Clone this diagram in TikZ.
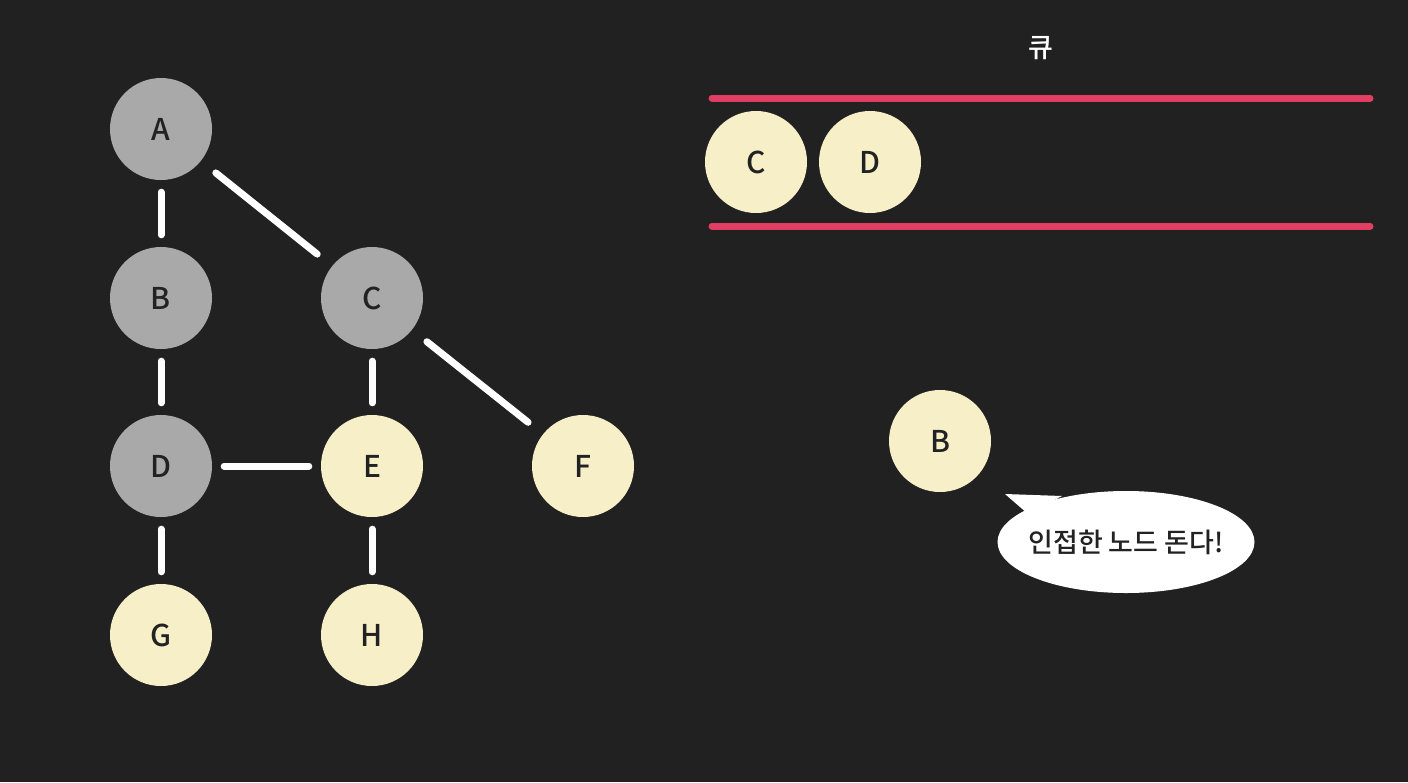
\documentclass[tikz,border=0pt]{standalone}
\usepackage{fontspec}
\setmainfont{Noto Sans CJK KR}[BoldFont={Noto Sans CJK KR Medium}]
\usetikzlibrary{shapes.geometric}
\definecolor{bg}{HTML}{212121}
\definecolor{visited}{HTML}{A9A9A9}
\definecolor{fresh}{HTML}{F7EFC8}
\definecolor{qred}{HTML}{E03E62}
\definecolor{ink}{HTML}{222222}
\tikzset{
  vnode/.style={circle, minimum size=102pt, inner sep=0pt, text=ink, font=\fontsize{30}{32}\selectfont\bfseries},
  grayv/.style={vnode, fill=visited},
  yelv/.style={vnode, fill=fresh},
  edge/.style={draw=white, line width=7pt, line cap=round, shorten >=12pt, shorten <=12pt},
  diag/.style={edge, shorten >=19pt, shorten <=19pt},
  qline/.style={draw=qred, line width=7pt, line cap=round},
}
\begin{document}
\begin{tikzpicture}[x=1pt,y=-1pt]
\fill[bg] (0,0) rectangle (1408,782);
\useasboundingbox (0,0) rectangle (1408,782);
% graph
\node[grayv] (A) at (161,129) {A};
\node[grayv] (B) at (161,298) {B};
\node[grayv] (C) at (372,298) {C};
\node[grayv] (D) at (161,466) {D};
\node[yelv] (E) at (372,466) {E};
\node[yelv] (F) at (583,466) {F};
\node[yelv] (G) at (161,635) {G};
\node[yelv] (H) at (372,635) {H};
\draw[edge] (A) -- (B);
\draw[diag] (A) -- (C);
\draw[edge] (B) -- (D);
\draw[edge] (C) -- (E);
\draw[diag] (C) -- (F);
\draw[edge] (D) -- (E);
\draw[edge] (D) -- (G);
\draw[edge] (E) -- (H);
% queue
\node[text=white, font=\fontsize{27}{29}\selectfont\bfseries] (qlabel) at (1041,48) {큐};
\coordinate (q1a) at (712,98);
\coordinate (q1b) at (1370,98);
\coordinate (q2a) at (712,226);
\coordinate (q2b) at (1370,226);
\draw[qline] (q1a) -- (q1b);
\draw[qline] (q2a) -- (q2b);
\node[yelv] (QC) at (756,162) {C};
\node[yelv] (QD) at (870,162) {D};
% current node and bubble
\node[yelv] (cur) at (940,441) {B};
\fill[white] (1005,494) -- (1062,496) -- (1028,514) -- cycle;
\node[ellipse, fill=white, minimum width=257pt, minimum height=102pt, inner sep=0pt] (bubble) at (1126,542) {};
\node[text=ink, font=\fontsize{27}{30}\selectfont\bfseries] (bubbletext) at (bubble.center) {인접한 노드 돈다!};
\end{tikzpicture}
\end{document}
